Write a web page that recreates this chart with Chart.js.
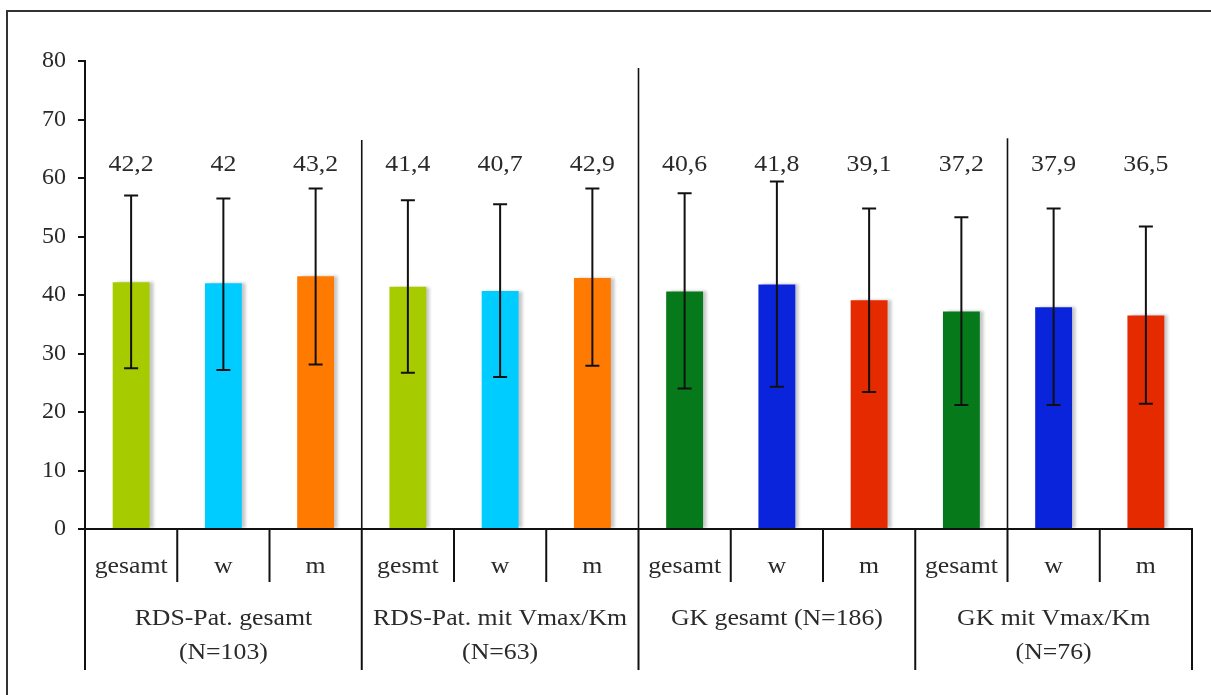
<!DOCTYPE html>
<html>
<head>
<meta charset="utf-8">
<script src="https://cdn.jsdelivr.net/npm/chart.js@4.4.0/dist/chart.umd.min.js"></script>
<style>
  html, body { margin: 0; padding: 0; background: #fff; }
</style>
</head>
<body>
<canvas id="c" width="1211" height="695"></canvas>
<script>
// Daten
const categories = ['gesamt', 'w', 'm', 'gesmt', 'w', 'm', 'gesamt', 'w', 'm', 'gesamt', 'w', 'm']
const groupLabels = [
    ['RDS-Pat. gesamt', '(N=103)'],
    ['RDS-Pat. mit Vmax/Km', '(N=63)'],
    ['GK gesamt (N=186)'],
    ['GK mit Vmax/Km', '(N=76)']
]
const means = [42.2, 42, 43.2, 41.4, 40.7, 42.9, 40.6, 41.8, 39.1, 37.2, 37.9, 36.5]
const errHigh = [57.0, 56.5, 58.2, 56.2, 55.5, 58.2, 57.4, 59.4, 54.8, 53.3, 54.8, 51.7]
const errLow = [27.5, 27.2, 28.1, 26.7, 26.0, 27.9, 24.0, 24.3, 23.4, 21.2, 21.2, 21.4]
const yTicks = [0, 10, 20, 30, 40, 50, 60, 70, 80]
const barColors = ['#a6cc00', '#00ccff', '#ff7a00', '#a6cc00', '#00ccff', '#ff7a00',
                   '#067a1a', '#0a24dc', '#e62a00', '#067a1a', '#0a24dc', '#e62a00']

const FONT = '23px "Liberation Serif", "DejaVu Serif", serif'
const TXT = '#2a2a2a'

// texte un peu étiré en largeur, comme dans l'original
function wideText(ctx, t, x, y) {
    ctx.save()
    ctx.translate(x, y)
    ctx.scale(1.12, 1)
    ctx.fillText(t, 0, 0)
    ctx.restore()
}

// ombre légère à droite des barres
const shadowPlugin = {
    id: 'shadow',
    beforeDatasetDraw(chart) {
        let ctx = chart.ctx
        ctx.save()
        ctx.shadowColor = 'rgba(0,0,0,0.22)'
        ctx.shadowOffsetX = 4
        ctx.shadowOffsetY = 0
        ctx.shadowBlur = 3
    },
    afterDatasetDraw(chart) {
        chart.ctx.restore()
    }
}

// Fehlerbalken, Beschriftungen, Trennlinien
const decoPlugin = {
    id: 'deco',
    afterDraw(chart) {
        let ctx = chart.ctx
        let x = chart.scales.x
        let y = chart.scales.y
        let meta = chart.getDatasetMeta(0)
        let base = y.bottom

        ctx.save()
        ctx.strokeStyle = '#111'
        ctx.lineWidth = 2

        // error bars
        for (let i = 0; i < means.length; i++) {
            let cx = meta.data[i].x
            let hi = y.getPixelForValue(errHigh[i])
            let lo = y.getPixelForValue(errLow[i])
            ctx.beginPath()
            ctx.moveTo(cx, lo); ctx.lineTo(cx, hi)
            ctx.moveTo(cx - 7, hi); ctx.lineTo(cx + 7, hi)
            ctx.moveTo(cx - 7, lo); ctx.lineTo(cx + 7, lo)
            ctx.stroke()
        }

        // value labels
        ctx.fillStyle = TXT
        ctx.font = FONT
        ctx.textAlign = 'center'
        ctx.textBaseline = 'middle'
        for (let i = 0; i < means.length; i++) {
            wideText(ctx, String(means[i]).replace('.', ','), meta.data[i].x, y.getPixelForValue(62.2))
        }

        let edge = (i) => {
            if (i < 0) return x.left
            if (i >= categories.length - 1) return x.right
            return (x.getPixelForValue(i) + x.getPixelForValue(i + 1)) / 2
        }

        // vertical dividers above the axis
        let above = [[2, 66.5], [5, 78.8], [9, 66.8]]
        ctx.lineWidth = 1.6
        for (let a of above) {
            let px = edge(a[0])
            ctx.beginPath()
            ctx.moveTo(px, base); ctx.lineTo(px, y.getPixelForValue(a[1]))
            ctx.stroke()
        }

        // lines below the axis
        ctx.lineWidth = 2
        for (let i = -1; i < categories.length; i++) {
            let px = edge(i)
            let long = (i + 1) % 3 == 0
            ctx.beginPath()
            ctx.moveTo(px, base); ctx.lineTo(px, base + (long ? 141 : 53))
            ctx.stroke()
        }

        // category labels
        for (let i = 0; i < categories.length; i++) {
            wideText(ctx, categories[i], x.getPixelForValue(i), base + 38)
        }

        // group labels
        for (let g = 0; g < groupLabels.length; g++) {
            let cx = (edge(g * 3 - 1) + edge(g * 3 + 2)) / 2
            groupLabels[g].forEach((t, k) => wideText(ctx, t, cx, base + 90 + k * 34))
        }

        // cadre
        ctx.strokeStyle = '#333'
        ctx.lineWidth = 2
        ctx.strokeRect(7, 11, 1400, 1000)
        ctx.restore()
    }
}

let c = document.getElementById('c')
let chart = new Chart(c, {
    type: 'bar',
    data: {
        labels: categories,
        datasets: [{
            data: means,
            backgroundColor: barColors,
            borderWidth: 0,
            barPercentage: 0.4,
            categoryPercentage: 1.0
        }]
    },
    options: {
        responsive: false,
        animation: false,
        layout: { padding: { top: 61, right: 19, left: 0, bottom: 0 } },
        plugins: {
            legend: { display: false },
            tooltip: { enabled: false }
        },
        scales: {
            x: {
                grid: { display: false },
                ticks: { display: false },
                border: { display: true, color: '#111', width: 2 },
                afterFit(s) { s.height = 166 }
            },
            y: {
                min: 0,
                max: 80,
                afterBuildTicks(s) { s.ticks = yTicks.map(v => ({ value: v })) },
                grid: { drawOnChartArea: false, drawTicks: true, tickLength: 7, color: '#111', lineWidth: 2 },
                border: { display: true, color: '#111', width: 2 },
                ticks: { color: TXT, font: { family: '"Liberation Serif", serif', size: 24 }, padding: 12 },
                afterFit(s) { s.width = 85 }
            }
        }
    },
    plugins: [shadowPlugin, decoPlugin]
})
</script>
</body>
</html>
